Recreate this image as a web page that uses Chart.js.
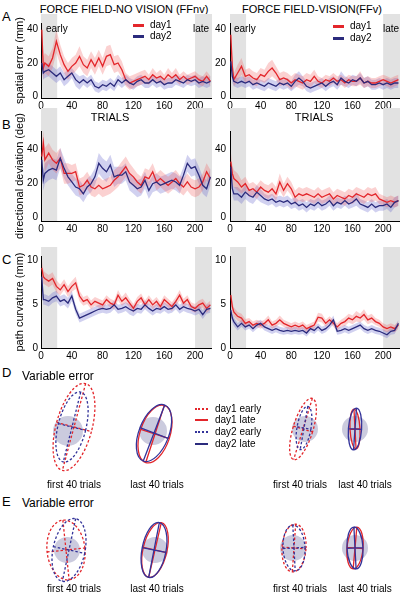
<!DOCTYPE html>
<html>
<head>
<meta charset="utf-8">
<script src="https://cdn.jsdelivr.net/npm/chart.js@4.4.1/dist/chart.umd.min.js"></script>
<style>
  body { margin:0; width:401px; height:597px; position:relative; overflow:hidden; background:#fff;
         font-family:"Liberation Sans", Arial, sans-serif; color:#000; }
  canvas { position:absolute; }
  .t { position:absolute; white-space:nowrap; line-height:1; }
  .c { transform:translate(-50%,-50%); }
  .l { transform:translateY(-50%); }
  .sw { position:absolute; height:0; }
</style>
</head>
<body>
<div class="t c" style="left:124px;top:9px;font-size:11px">FORCE FIELD-NO VISION (FFnv)</div>
<div class="t c" style="left:312px;top:9px;font-size:11px">FORCE FIELD-VISION(FFv)</div>

<div class="t l" style="left:2px;top:16px;font-size:13px">A</div>
<div class="t l" style="left:2px;top:124px;font-size:13px">B</div>
<div class="t l" style="left:2px;top:259px;font-size:13px">C</div>
<div class="t l" style="left:2px;top:372px;font-size:13px">D</div>
<div class="t l" style="left:2px;top:501px;font-size:13px">E</div>

<canvas id="errNoVis" width="212" height="119" style="left:0;top:-7px"></canvas>
<canvas id="errVis" width="195" height="119" style="left:205px;top:-7px"></canvas>
<canvas id="devNoVis" width="212" height="152" style="left:0;top:101px"></canvas>
<canvas id="devVis" width="195" height="134" style="left:205px;top:101px"></canvas>
<canvas id="curvNoVis" width="212" height="136" style="left:0;top:226px"></canvas>
<canvas id="curvVis" width="195" height="136" style="left:205px;top:226px"></canvas>

<div class="t l" style="left:46px;top:29px;font-size:10px">early</div>
<div class="t l" style="left:193px;top:29px;font-size:10px">late</div>
<div class="t l" style="left:234px;top:29px;font-size:10px">early</div>
<div class="t l" style="left:383px;top:29px;font-size:10px">late</div>

<div class="sw" style="left:133px;top:24px;width:11px;border-top:3px solid #e3262b"></div>
<div class="t l" style="left:150px;top:25px;font-size:10px">day1</div>
<div class="sw" style="left:133px;top:35px;width:11px;border-top:3px solid #2b2b7d"></div>
<div class="t l" style="left:150px;top:36px;font-size:10px">day2</div>
<div class="sw" style="left:333px;top:25px;width:11px;border-top:3px solid #e3262b"></div>
<div class="t l" style="left:350px;top:26px;font-size:10px">day1</div>
<div class="sw" style="left:333px;top:37px;width:11px;border-top:3px solid #2b2b7d"></div>
<div class="t l" style="left:350px;top:38px;font-size:10px">day2</div>

<div class="t c" style="left:110px;top:117px;font-size:11px">TRIALS</div>
<div class="t c" style="left:314px;top:117px;font-size:11px">TRIALS</div>

<div class="t l" style="left:22px;top:376px;font-size:12px">Variable error</div>
<div class="t l" style="left:22px;top:503px;font-size:12px">Variable error</div>

<canvas id="dNoVisFirst" width="90" height="120" style="left:23px;top:371px"></canvas>
<canvas id="dNoVisLast" width="90" height="120" style="left:108px;top:371px"></canvas>
<canvas id="dVisFirst" width="90" height="120" style="left:260px;top:369px"></canvas>
<canvas id="dVisLast" width="90" height="120" style="left:310px;top:369px"></canvas>
<canvas id="eNoVisFirst" width="90" height="120" style="left:22px;top:490px"></canvas>
<canvas id="eNoVisLast" width="90" height="120" style="left:110px;top:490px"></canvas>
<canvas id="eVisFirst" width="90" height="120" style="left:248px;top:488px"></canvas>
<canvas id="eVisLast" width="90" height="120" style="left:310px;top:488px"></canvas>

<div class="sw" style="left:195px;top:408px;width:13px;border-top:2px dotted #e3262b"></div>
<div class="t l" style="left:215px;top:409px;font-size:10px">day1 early</div>
<div class="sw" style="left:195px;top:419px;width:13px;border-top:2px solid #e3262b"></div>
<div class="t l" style="left:215px;top:420px;font-size:10px">day1 late</div>
<div class="sw" style="left:195px;top:431px;width:13px;border-top:2px dotted #33339a"></div>
<div class="t l" style="left:215px;top:432px;font-size:10px">day2 early</div>
<div class="sw" style="left:195px;top:443px;width:13px;border-top:2px solid #2b2b7d"></div>
<div class="t l" style="left:215px;top:444px;font-size:10px">day2 late</div>

<div class="t c" style="left:74px;top:485px;font-size:10px">first 40 trials</div>
<div class="t c" style="left:157px;top:485px;font-size:10px">last 40 trials</div>
<div class="t c" style="left:300px;top:485px;font-size:10px">first 40 trials</div>
<div class="t c" style="left:365px;top:485px;font-size:10px">last 40 trials</div>
<div class="t c" style="left:74px;top:589px;font-size:10px">first 40 trials</div>
<div class="t c" style="left:157px;top:589px;font-size:10px">last 40 trials</div>
<div class="t c" style="left:300px;top:589px;font-size:10px">first 40 trials</div>
<div class="t c" style="left:365px;top:589px;font-size:10px">last 40 trials</div>

<script>
// trial numbers of the sampled points
const trials = [1,3,5,10,15,20,25,30,35,40, 45,50,55,60,65,70,75,80,85,90, 95,100,105,110,115,120,125,130,135,140, 145,150,155,160,165,170,175,180,185,190, 195,200,205,210,215,220];
const xTicks = [0, 40, 80, 120, 160, 200];
const earlyBlock = [0, 21];
const lateBlock = [200, 222];

// A: spatial error (mm)
const errNoVisDay1   = [40,17,20,18,23,33,25,19,15,18, 20,24,19,17,22,18,23,18,24,25, 19,20,16,10,8,9,10,11,12,10, 13,11,12,10,13,11,13,10,12,10, 11,12,10,9,12,9];
const errNoVisDay1Sd = [10,7,6,6,6,7,6,5,5,5, 5,6,5,5,5,5,5,5,6,6, 5,5,5,4,4,4,4,4,4,3, 4,3,4,3,4,3,4,3,3,3, 3,3,3,3,3,3];
const errNoVisDay2   = [20,14,15,16,14,12,14,10,12,14, 10,8,10,8,10,6,5,7,6,8, 6,10,8,10,8,7,9,10,8,8, 10,8,9,7,8,8,10,9,8,10, 9,10,8,9,8,9];
const errNoVisDay2Sd = [5,4,4,4,4,4,4,4,4,3, 4,4,3,3,3,3,3,3,3,3, 3,3,3,3,3,3,3,3,3,3, 3,3,3,3,3,3,3,3,3,3, 3,3,3,3,3,3];
const errVisDay1     = [37,18,10,14,18,12,13,11,10,13, 12,15,17,14,10,11,10,8,10,9, 8,10,9,12,9,8,10,9,11,9, 10,8,10,9,9,11,8,9,8,8, 9,10,9,8,9,10];
const errVisDay1Sd   = [8,6,4,5,5,4,4,4,4,4, 4,5,5,4,4,4,4,4,4,4, 4,4,4,4,3,3,3,3,3,3, 3,3,3,3,3,4,3,3,3,3, 3,3,3,3,3,3];
const errVisDay2     = [21,12,9,8,9,8,9,7,8,7, 6,8,7,6,8,7,8,6,9,11, 9,6,5,6,7,8,6,8,9,7, 11,9,8,10,9,11,8,9,7,7, 8,7,8,7,8,8];
const errVisDay2Sd   = [5,4,3,3,3,3,3,3,3,3, 3,3,3,3,3,3,3,3,4,4, 3,3,3,3,3,3,3,3,3,3, 4,3,3,3,3,3,3,3,3,3, 3,3,3,3,3,3];

// B: directional deviation (deg)
const devNoVisDay1   = [36,44,34,38,34,32,35,26,26,26, 27,18,19,22,18,17,19,17,18,19, 22,24,27,30,26,24,21,19,24,23, 27,21,23,21,19,21,23,20,18,21, 18,17,18,21,27,23];
const devNoVisDay1Sd = [8,7,7,6,6,6,6,6,6,5, 5,5,5,5,5,5,5,5,5,5, 6,6,6,6,6,5,5,5,5,5, 5,5,5,5,5,5,5,5,5,5, 5,5,5,5,5,5];
const devNoVisDay2   = [34,22,26,28,29,28,35,29,24,21, 18,17,14,18,20,24,32,29,27,31, 24,25,25,27,21,19,17,18,22,16, 20,21,19,20,21,22,21,19,25,32, 29,30,25,19,17,24];
const devNoVisDay2Sd = [7,6,6,6,6,6,6,6,5,5, 5,5,5,5,5,5,6,6,6,6, 6,5,5,5,5,5,5,5,5,5, 5,5,5,5,5,5,5,5,5,5, 5,5,5,5,5,5];
const devVisDay1     = [33,26,23,21,18,20,16,17,15,18, 16,15,17,14,21,16,20,17,12,14, 13,14,13,12,14,12,13,14,11,13, 12,11,13,12,14,13,12,14,13,14, 11,10,9,10,9,10];
const devVisDay1Sd   = [6,5,5,5,4,4,4,4,4,4, 4,4,4,4,5,4,4,4,4,4, 4,4,4,4,4,4,4,4,4,4, 4,4,4,4,4,4,4,4,4,4, 3,3,3,3,3,3];
const devVisDay2     = [30,17,14,14,12,15,13,12,15,13, 11,10,11,9,10,9,10,8,9,7, 8,6,8,7,9,7,8,10,7,9, 8,10,8,9,11,8,7,6,8,6, 7,7,8,6,9,10];
const devVisDay2Sd   = [5,4,4,4,4,4,4,4,4,4, 3,3,3,3,3,3,3,3,3,3, 3,3,3,3,3,3,3,3,3,3, 3,3,3,3,4,3,3,3,3,3, 3,3,3,3,3,3];

// C: path curvature (mm)
const curvNoVisDay1   = [9.1,8.1,7.9,7.6,7.9,7.0,6.6,7.2,6.4,7.0, 7.4,5.9,5.3,5.5,4.9,5.3,5.1,4.9,5.5,5.1, 4.9,6.0,5.3,5.7,5.1,4.5,5.3,5.7,4.9,5.5, 4.9,5.3,4.7,5.5,5.1,4.7,5.3,6.0,5.1,5.5, 4.7,4.5,4.9,5.1,4.5,4.9];
const curvNoVisDay1Sd = [1.0,0.8,0.7,0.7,0.7,0.7,0.6,0.6,0.6,0.6, 0.7,0.6,0.5,0.5,0.5,0.5,0.5,0.5,0.5,0.5, 0.5,0.6,0.5,0.6,0.5,0.5,0.5,0.5,0.5,0.5, 0.5,0.5,0.5,0.5,0.5,0.5,0.5,0.6,0.5,0.5, 0.5,0.5,0.5,0.5,0.5,0.5];
const curvNoVisDay2   = [8.1,5.5,5.5,5.3,5.7,5.9,5.3,5.5,5.1,5.9, 4.4,3.4,3.6,3.8,4.0,4.2,4.4,4.5,4.4,4.5, 4.9,4.4,4.5,4.7,4.4,4.2,4.5,4.4,4.9,4.5, 4.2,4.5,4.4,4.7,4.4,4.5,4.9,4.4,4.7,4.5, 4.4,4.2,4.4,3.8,4.4,4.5];
const curvNoVisDay2Sd = [0.8,0.6,0.6,0.6,0.6,0.6,0.6,0.6,0.6,0.6, 0.5,0.5,0.5,0.5,0.5,0.5,0.5,0.5,0.5,0.5, 0.5,0.5,0.5,0.5,0.6,0.6,0.5,0.5,0.5,0.5, 0.5,0.5,0.5,0.5,0.5,0.5,0.5,0.5,0.5,0.5, 0.5,0.5,0.5,0.5,0.5,0.5];
const curvVisDay1     = [6.0,4.7,4.1,3.6,3.4,2.8,3.0,2.6,2.8,2.6, 2.8,3.2,2.6,2.8,3.2,2.8,2.6,2.4,2.6,2.4, 2.6,2.2,2.4,2.6,3.5,3.4,2.8,3.2,2.8,2.4, 2.8,3.0,3.4,3.2,3.6,3.4,3.8,3.2,3.4,3.0, 2.8,2.4,2.2,2.4,2.2,2.6];
const curvVisDay1Sd   = [0.8,0.6,0.5,0.5,0.5,0.5,0.4,0.4,0.4,0.4, 0.4,0.5,0.4,0.4,0.5,0.4,0.4,0.4,0.4,0.4, 0.4,0.4,0.4,0.4,0.5,0.5,0.4,0.4,0.4,0.4, 0.4,0.5,0.5,0.5,0.6,0.5,0.6,0.5,0.5,0.4, 0.4,0.4,0.4,0.4,0.4,0.4];
const curvVisDay2     = [4.3,3.4,3.0,2.4,2.8,2.4,2.6,2.2,2.6,2.8, 2.4,2.2,2.0,2.2,2.0,1.9,2.0,1.9,2.0,1.9, 2.0,1.7,2.2,2.0,2.4,2.0,2.2,2.6,3.2,1.9, 2.0,2.2,2.0,2.2,2.4,2.6,2.2,2.0,2.2,2.0, 1.9,1.7,1.5,1.9,2.0,2.8];
const curvVisDay2Sd   = [0.7,0.5,0.5,0.4,0.4,0.4,0.4,0.4,0.4,0.4, 0.4,0.4,0.4,0.4,0.4,0.4,0.4,0.4,0.4,0.4, 0.4,0.4,0.4,0.4,0.4,0.4,0.4,0.4,0.5,0.4, 0.4,0.4,0.4,0.4,0.4,0.4,0.4,0.4,0.4,0.4, 0.4,0.4,0.4,0.4,0.4,0.4];

// D / E: variable error ellipses [day, phase, semi-major, semi-minor, tilt (deg), dx, dy]
const dNoVisFirst = [['day1','early',22.5,9,15,3,2], ['day2','early',18,7,14,2,2]];
const dNoVisLast  = [['day1','late',15,7.5,18,1,-1.5], ['day2','late',15,7.5,21,0.5,-1]];
const dVisFirst   = [['day1','early',16,5,17,-1,0], ['day2','early',11,3.5,10,-0.5,0.5]];
const dVisLast    = [['day1','late',10,2.5,-3,0,0], ['day2','late',10.5,3.3,4,0,0]];
const eNoVisFirst = [['day1','early',15,9.5,-6,-0.5,0], ['day2','early',16,8,12,1,0]];
const eNoVisLast  = [['day1','late',14,6,13,0,0], ['day2','late',14,6,11,-0.5,0]];
const eVisFirst   = [['day1','early',12,6,4,0.5,0], ['day2','early',11.5,5.5,-3,0.5,0]];
const eVisLast    = [['day1','late',10.5,4,5,0,0], ['day2','late',10.5,4,-3,0,0]];
const targetRadius = [7.5, 7, 6.5, 6.5, 6.5, 6.5, 6.5, 6.5];

const RED = '#e3262b', BLUE = '#2b2b7d';
const RED_BAND = 'rgba(240,90,90,0.28)', BLUE_BAND = 'rgba(90,90,200,0.28)';
const ELL_BLUE = '#33339a';

Chart.defaults.font.family = '"Liberation Sans", Arial, sans-serif';
Chart.defaults.color = '#000';

const shadePlugin = {
  id: 'shade',
  beforeDraw(chart, args, opts) {
    const {ctx, chartArea, scales: {x}} = chart;
    ctx.save();
    ctx.fillStyle = '#e2e2e2';
    [earlyBlock, lateBlock].forEach(([a, b]) => {
      const x0 = x.getPixelForValue(a), x1 = x.getPixelForValue(b);
      ctx.fillRect(x0, chartArea.top - opts.extend, x1 - x0, chartArea.bottom - chartArea.top + opts.extend);
    });
    ctx.restore();
  }
};

function trialChart(id, o) {
  const ds = [];
  o.series.forEach(([mean, sd, band]) => {
    ds.push({data: mean.map((v, i) => ({x: trials[i], y: v - sd[i]})), borderWidth: 0, borderColor: 'transparent', pointRadius: 0, fill: false, order: 3});
    ds.push({data: mean.map((v, i) => ({x: trials[i], y: v + sd[i]})), borderWidth: 0, borderColor: 'transparent', pointRadius: 0, backgroundColor: band, fill: '-1', order: 3});
  });
  o.series.forEach(([mean, sd, band, line], k) => {
    ds.push({data: mean.map((v, i) => ({x: trials[i], y: v})), borderColor: line, borderWidth: 1.3, pointRadius: 0, fill: false, order: 2 - k, clip: false});
  });
  new Chart(document.getElementById(id), {
    type: 'line',
    data: {datasets: ds},
    options: {
      responsive: false, animation: false, events: [],
      layout: {padding: {top: 30, left: 0, right: 0, bottom: 0}},
      scales: {
        x: {
          type: 'linear', min: 0, max: 222,
          afterBuildTicks: s => { s.ticks = xTicks.map(v => ({value: v})); },
          afterFit: s => { s.height = o.xAxisH || 14; },
          grid: {display: false, drawTicks: false},
          border: {color: '#000', width: 1},
          ticks: {padding: 2, font: {size: 10}, maxRotation: 0, autoSkip: false}
        },
        y: {
          type: 'linear', min: o.yMin, max: o.yMax,
          afterBuildTicks: s => { s.ticks = o.yTicks.map(v => ({value: v})); },
          afterFit: s => { s.width = o.axisW; },
          grid: {display: false, drawTicks: false},
          border: {color: '#000', width: 1},
          ticks: {padding: o.tickPad, font: {size: 10}},
          title: {display: !!o.title, text: o.title, padding: {top: 13, bottom: 0}, font: {size: 11}}
        }
      },
      plugins: {legend: {display: false}, tooltip: {enabled: false}, shade: {extend: o.extend}}
    },
    plugins: [shadePlugin]
  });
}

trialChart('errNoVis', {yMin: -1, yMax: 44, yTicks: [0, 20, 40], axisW: 41, tickPad: 3, extend: 9, title: 'spatial error (mm)',
  series: [[errNoVisDay1, errNoVisDay1Sd, RED_BAND, RED], [errNoVisDay2, errNoVisDay2Sd, BLUE_BAND, BLUE]]});
trialChart('errVis', {yMin: -1, yMax: 44, yTicks: [0, 20, 40], axisW: 25, tickPad: 4, extend: 9, title: '',
  series: [[errVisDay1, errVisDay1Sd, RED_BAND, RED], [errVisDay2, errVisDay2Sd, BLUE_BAND, BLUE]]});
trialChart('devNoVis', {yMin: -2, yMax: 51, yTicks: [0, 20, 40], axisW: 41, tickPad: 3, extend: 23, xAxisH: 32, title: 'directional deviation (deg)',
  series: [[devNoVisDay1, devNoVisDay1Sd, RED_BAND, RED], [devNoVisDay2, devNoVisDay2Sd, BLUE_BAND, BLUE]]});
trialChart('devVis', {yMin: -2, yMax: 51, yTicks: [0, 20, 40], axisW: 25, tickPad: 4, extend: 23, title: '',
  series: [[devVisDay1, devVisDay1Sd, RED_BAND, RED], [devVisDay2, devVisDay2Sd, BLUE_BAND, BLUE]]});
trialChart('curvNoVis', {yMin: 0, yMax: 10.45, yTicks: [0, 5, 10], axisW: 41, tickPad: 3, extend: 9, title: 'path curvature (mm)',
  series: [[curvNoVisDay1, curvNoVisDay1Sd, RED_BAND, RED], [curvNoVisDay2, curvNoVisDay2Sd, BLUE_BAND, BLUE]]});
trialChart('curvVis', {yMin: 0, yMax: 10.45, yTicks: [0, 5, 10], axisW: 25, tickPad: 4, extend: 9, title: '',
  series: [[curvVisDay1, curvVisDay1Sd, RED_BAND, RED], [curvVisDay2, curvVisDay2Sd, BLUE_BAND, BLUE]]});

// ellipses drawn through the chart scales
const ellipsePlugin = {
  id: 'ellipses',
  afterDatasetsDraw(chart, args, opts) {
    const {ctx, scales: {x, y}} = chart;
    const ux = x.getPixelForValue(1) - x.getPixelForValue(0);
    const uy = y.getPixelForValue(0) - y.getPixelForValue(1);
    ctx.save();
    ctx.fillStyle = '#cbcbde';
    ctx.beginPath();
    ctx.ellipse(x.getPixelForValue(0), y.getPixelForValue(0), opts.target * ux, opts.target * uy, 0, 0, Math.PI * 2);
    ctx.fill();
    opts.items.forEach(([day, phase, a, b, tilt, dx, dy]) => {
      const cx = x.getPixelForValue(dx), cy = y.getPixelForValue(dy);
      const r = tilt * Math.PI / 180;
      const A = a * uy, B = b * ux;
      ctx.strokeStyle = day === 'day1' ? RED : ELL_BLUE;
      ctx.lineWidth = 1.3;
      ctx.setLineDash(phase === 'early' ? [2.5, 2] : []);
      ctx.beginPath();
      ctx.ellipse(cx, cy, B, A, r, 0, Math.PI * 2);
      ctx.moveTo(cx + Math.sin(r) * A, cy - Math.cos(r) * A);
      ctx.lineTo(cx - Math.sin(r) * A, cy + Math.cos(r) * A);
      ctx.moveTo(cx - Math.cos(r) * B, cy - Math.sin(r) * B);
      ctx.lineTo(cx + Math.cos(r) * B, cy + Math.sin(r) * B);
      ctx.stroke();
    });
    ctx.restore();
  }
};

function ellipseChart(id, items, target) {
  new Chart(document.getElementById(id), {
    type: 'scatter',
    data: {datasets: []},
    options: {
      responsive: false, animation: false, events: [],
      layout: {padding: 0},
      scales: {
        x: {type: 'linear', display: false, min: -22.5, max: 22.5},
        y: {type: 'linear', display: false, min: -30, max: 30}
      },
      plugins: {legend: {display: false}, tooltip: {enabled: false}, ellipses: {items, target}}
    },
    plugins: [ellipsePlugin]
  });
}

ellipseChart('dNoVisFirst', dNoVisFirst, targetRadius[0]);
ellipseChart('dNoVisLast', dNoVisLast, targetRadius[1]);
ellipseChart('dVisFirst', dVisFirst, targetRadius[2]);
ellipseChart('dVisLast', dVisLast, targetRadius[3]);
ellipseChart('eNoVisFirst', eNoVisFirst, targetRadius[4]);
ellipseChart('eNoVisLast', eNoVisLast, targetRadius[5]);
ellipseChart('eVisFirst', eVisFirst, targetRadius[6]);
ellipseChart('eVisLast', eVisLast, targetRadius[7]);
</script>
</body>
</html>
